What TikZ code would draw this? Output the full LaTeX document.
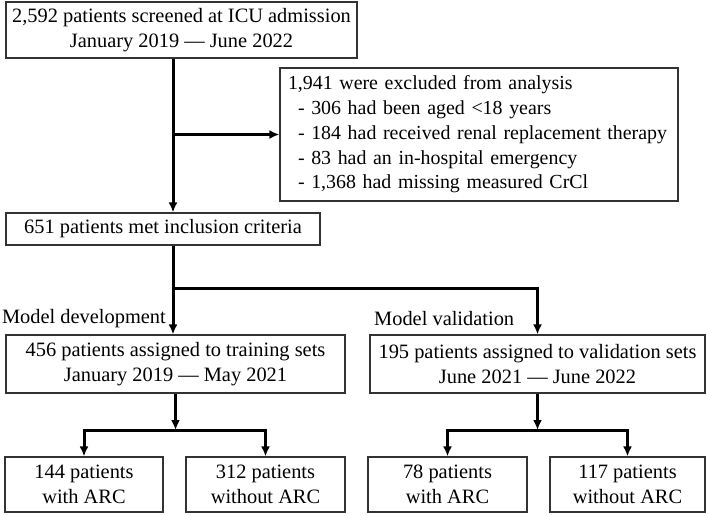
\documentclass[tikz,border=0pt]{standalone}
\usepackage{fontspec}
\setmainfont{Liberation Serif}
\usepackage{tikz}
\usetikzlibrary{positioning, arrows.meta}

\begin{document}
\begin{tikzpicture}[x=1pt, y=-1pt,
	font=\fontsize{20.4}{24.7}\selectfont,
	box/.style={rectangle, draw=black!80, line width=1.2pt, align=center, inner sep=0pt},
	flow/.style={line width=3pt, -{Latex[length=10pt,width=9pt]}}]
	\useasboundingbox (0,0) rectangle (709,515);
	% boxes
	\node[box, minimum width=351pt, minimum height=56pt] (screened) at (181.5,30)
		{2,592 patients screened at ICU admission\\January 2019 --- June 2022};
	\node[box, minimum height=133pt, text width=396pt, inner xsep=1pt, align=left,
		font=\fontsize{19.9}{24.7}\selectfont] (excluded) at (479,134.5)
		{\mbox{\hspace*{7pt}1,941 were excluded from analysis}\\%
		\mbox{\hspace*{17pt}- 306 had been aged <18 years}\\%
		\mbox{\hspace*{17pt}- 184 had received renal replacement therapy}\\%
		\mbox{\hspace*{17pt}- 83 had an in-hospital emergency}\\%
		\mbox{\hspace*{17pt}- 1,368 had missing measured CrCl}};
	\node[box, minimum width=314pt, minimum height=32pt] (included) at (163,229)
		{651 patients met inclusion criteria};
	\node[box, minimum width=339pt, minimum height=58pt] (training) at (175.5,364)
		{456 patients assigned to training sets\\January 2019 --- May 2021};
	\node[box, minimum width=335pt, minimum height=58pt] (validation) at (537.5,364)
		{195 patients assigned to validation sets\\June 2021 --- June 2022};
	\node[box, minimum width=158pt, minimum height=55pt] (trainarc) at (84,484.5)
		{144 patients\\with ARC};
	\node[box, minimum width=159pt, minimum height=55pt] (trainnoarc) at (265.5,484.5)
		{312 patients\\without ARC};
	\node[box, minimum width=159pt, minimum height=55pt] (validarc) at (447.5,484.5)
		{78 patients\\with ARC};
	\node[box, minimum width=155pt, minimum height=55pt] (validnoarc) at (627.5,484.5)
		{117 patients\\without ARC};
	% labels
	\node[anchor=east, inner sep=0pt] (devlabel) at (166,319) {Model development};
	\node[anchor=west, inner sep=0pt] (vallabel) at (374,319) {Model validation};
	% connectors
	\coordinate (spine) at (173,0);
	\coordinate (split) at (173,288);
	\coordinate (trainsplit) at (175.5,430);
	\coordinate (validsplit) at (537.5,430);
	\draw[flow] (screened.south -| spine) -- (included.north -| spine);
	\draw[flow] (spine |- excluded.west) -- (excluded.west);
	\draw[flow] (included.south -| spine) -- (training.north -| spine);
	\draw[flow] (split) -| (validation.north);
	\draw[flow] (training.south) -- (trainsplit);
	\draw[flow] (validation.south) -- (validsplit);
	\draw[flow] (trainsplit) -| (trainarc.north);
	\draw[flow] (trainsplit) -| (trainnoarc.north);
	\draw[flow] (validsplit) -| (validarc.north);
	\draw[flow] (validsplit) -| (validnoarc.north);
\end{tikzpicture}
\end{document}
